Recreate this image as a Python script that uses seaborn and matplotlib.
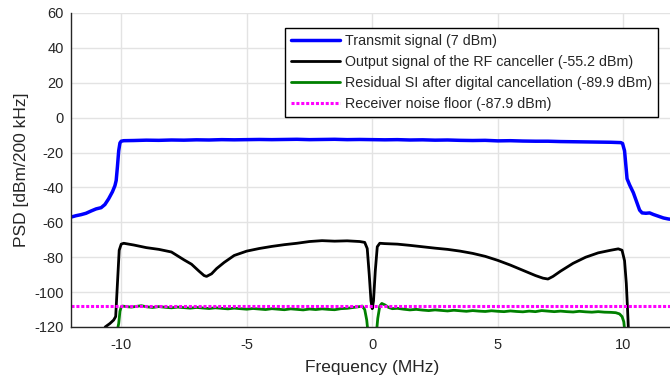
import matplotlib
matplotlib.use("Agg")
import matplotlib.pyplot as plt
import seaborn as sns
import pandas as pd

# ---------------- data ----------------
tx_freq = [-12, -11.8, -11.6, -11.4, -11.2, -11.0, -10.8, -10.65, -10.5, -10.35, -10.25,
           -10.2, -10.15, -10.1, -10.05, -10.0, -9.9, -9.5, -9.0, -8.5, -8.0, -7.5, -7.0,
           -6.5, -6.0, -5.5, -5.0, -4.5, -4.0, -3.5, -3.0, -2.5, -2.0, -1.5, -1.0, -0.5,
           0.0, 0.5, 1.0, 1.5, 2.0, 2.5, 3.0, 3.5, 4.0, 4.5, 5.0, 5.5, 6.0, 6.5, 7.0, 7.5,
           8.0, 8.5, 9.0, 9.5, 9.9, 9.97, 10.05, 10.1, 10.15, 10.25, 10.4, 10.55, 10.65,
           10.75, 10.9, 11.05, 11.2, 11.4, 11.6, 11.8, 12.0]
tx_psd = [-57, -56.2, -55.6, -54.8, -53.5, -52.3, -51.6, -49.8, -46.5, -42.5, -39,
          -36, -28, -19, -14.5, -13.5, -13.2, -13.1, -12.9, -13.0, -12.8, -12.9, -12.7,
          -12.8, -12.6, -12.7, -12.6, -12.5, -12.6, -12.5, -12.4, -12.6, -12.5, -12.4, -12.6, -12.5,
          -12.6, -12.7, -12.6, -12.8, -12.7, -12.9, -12.8, -13.0, -13.1, -13.0, -13.3, -13.2, -13.4, -13.5, -13.5, -13.7,
          -13.8, -13.9, -14.0, -14.1, -14.3, -14.8, -19, -27, -35, -38.5, -43, -49, -53,
          -54.6, -54.8, -54.6, -55.5, -56.5, -57.5, -58.1, -58.4]

rf_freq = [-10.64, -10.45, -10.3, -10.22, -10.15, -10.08, -10.0, -9.9, -9.5, -9.0, -8.5,
           -8.0, -7.5, -7.2, -6.9, -6.7, -6.6, -6.4, -6.2, -5.9, -5.5, -5.0, -4.5, -4.0,
           -3.5, -3.0, -2.5, -2.0, -1.5, -1.0, -0.5, -0.3, -0.2, -0.12, -0.05, 0.0, 0.05,
           0.12, 0.2, 0.3, 0.5, 1.0, 1.5, 2.0, 2.5, 3.0, 3.5, 4.0, 4.5, 5.0, 5.5, 6.0, 6.5,
           6.8, 7.0, 7.2, 7.5, 8.0, 8.5, 9.0, 9.5, 9.8, 9.95, 10.05, 10.12, 10.17, 10.2]
rf_psd = [-120, -118, -116, -114, -95, -76, -72.5, -72, -73, -74.5, -75.5,
          -77, -81.5, -84, -88, -90.5, -91, -89.5, -86.5, -83, -79, -76.5, -75, -73.8,
          -72.8, -72, -71, -70.5, -70.8, -70.6, -71, -71.5, -75, -90, -105, -109.5, -105,
          -88, -74, -72, -72.2, -72.5, -73.2, -74, -74.8, -75.5, -76.5, -77.8, -79.5, -81.8, -84.5, -87.5, -90.5,
          -92, -92.5, -91, -88, -83.5, -80, -77.5, -76, -75.2, -76, -82, -95, -110, -120]

si_freq = [-10.2, -10.1, -10.05, -10.0, -9.95, -9.8, -9.6, -9.4, -9.2, -9.0, -8.75, -8.5,
           -8.25, -8.0, -7.75, -7.5, -7.25, -7.0, -6.75, -6.5, -6.25, -6.0, -5.75, -5.5,
           -5.25, -5.0, -4.75, -4.5, -4.25, -4.0, -3.75, -3.5, -3.25, -3.0, -2.75, -2.5,
           -2.25, -2.0, -1.75, -1.5, -1.25, -1.0, -0.75, -0.5, -0.4, -0.3, -0.22, -0.15,
           0.15, 0.22, 0.3, 0.38, 0.5, 0.65, 0.8, 1.0, 1.25, 1.5, 1.75, 2.0, 2.25, 2.5,
           2.75, 3.0, 3.25, 3.5, 3.75, 4.0, 4.25, 4.5, 4.75, 5.0, 5.25, 5.5, 5.75, 6.0,
           6.25, 6.5, 6.75, 7.0, 7.25, 7.5, 7.75, 8.0, 8.25, 8.5, 8.75, 9.0, 9.25, 9.5,
           9.7, 9.85, 9.95, 10.02, 10.08]
si_psd = [-125, -118, -111, -108.5, -108, -108.3, -108.6, -108.2, -107.8, -108.4, -108.8, -108.3,
          -108.7, -109.0, -108.6, -108.9, -109.2, -108.8, -109.1, -109.4, -109.0, -109.3, -109.6, -109.2,
          -109.5, -109.8, -109.4, -109.7, -110.0, -109.5, -109.8, -110.1, -109.6, -109.9, -110.2, -109.7,
          -110.0, -109.6, -109.9, -110.1, -109.5, -109.3, -108.8, -108.3, -108.0, -110, -116, -126,
          -126, -115, -108, -106.5, -107.3, -108.8, -109.5, -109.3, -109.8, -110.2, -109.9, -110.3, -110.6, -110.2,
          -110.5, -110.8, -110.4, -110.7, -111.0, -110.6, -110.9, -111.1, -110.7, -111.0, -111.2, -110.8, -111.1, -111.3,
          -110.9, -111.2, -110.6, -110.9, -111.2, -110.9, -111.2, -111.4, -111.0, -111.3, -111.5, -111.2, -111.5, -111.6,
          -111.8, -112.5, -114, -117, -125]

nf_freq = [-12, 12]
nf_psd = [-108, -108]

labels = ["Transmit signal (7 dBm)",
          "Output signal of the RF canceller (-55.2 dBm)",
          "Residual SI after digital cancellation (-89.9 dBm)",
          "Receiver noise floor (-87.9 dBm)"]
x_ticks = [-10, -5, 0, 5, 10]
y_ticks = [-120, -100, -80, -60, -40, -20, 0, 20, 40, 60]

# ---------------- style ----------------
sns.set_style("whitegrid")
plt.rcParams["font.family"] = ["Liberation Sans", "DejaVu Sans"]
dark = "#262626"

fig = plt.figure(figsize=(6.7, 3.81), dpi=100)
ax = fig.add_axes([71 / 670, 1 - 327 / 381, (673.5 - 71) / 670, (327 - 13) / 381])

sns.lineplot(x=tx_freq, y=tx_psd, ax=ax, color="#0000ff", lw=2.5, sort=False,
             estimator=None, label=labels[0])
sns.lineplot(x=rf_freq, y=rf_psd, ax=ax, color="black", lw=2.0, sort=False,
             estimator=None, label=labels[1])
sns.lineplot(x=si_freq, y=si_psd, ax=ax, color="#008000", lw=2.0, sort=False,
             estimator=None, label=labels[2])
sns.lineplot(x=nf_freq, y=nf_psd, ax=ax, color="#ff00ff", lw=2.2, sort=False,
             estimator=None, label=labels[3], linestyle=(0, (1, 0.6)))

ax.set_xlim(-12, 12)
ax.set_ylim(-120, 60)
ax.set_xticks(x_ticks)
ax.set_xticklabels([str(t) for t in x_ticks])
ax.set_yticks(y_ticks)
ax.set_yticklabels([str(t) for t in y_ticks])

ax.grid(True, color="#e3e3e3", lw=1.0)
ax.set_axisbelow(True)
for s in ["top", "right"]:
    ax.spines[s].set_visible(False)
for s in ["left", "bottom"]:
    ax.spines[s].set_visible(True)
    ax.spines[s].set_color(dark)
    ax.spines[s].set_linewidth(1.0)

ax.tick_params(axis="both", direction="in", length=4.5, width=0.9, color=dark,
               labelcolor=dark, labelsize=10.5, pad=5)
ax.tick_params(axis="x", pad=8)
ax.set_xlabel("Frequency (MHz)", fontsize=12.5, color=dark, labelpad=6)
ax.set_ylabel("PSD [dBm/200 kHz]", fontsize=12.5, color=dark, labelpad=4)

leg = ax.legend(loc="upper right", bbox_to_anchor=(658 / 670, 1 - 28 / 381),
                bbox_transform=fig.transFigure, borderaxespad=0, fontsize=10.3,
                frameon=True, fancybox=False, framealpha=1, edgecolor="black",
                handlelength=3.4, handletextpad=0.35, labelspacing=0.48, borderpad=0.42)
leg.get_frame().set_linewidth(1.0)
for t in leg.get_texts():
    t.set_color(dark)

fig.savefig("out.png", dpi=100)
